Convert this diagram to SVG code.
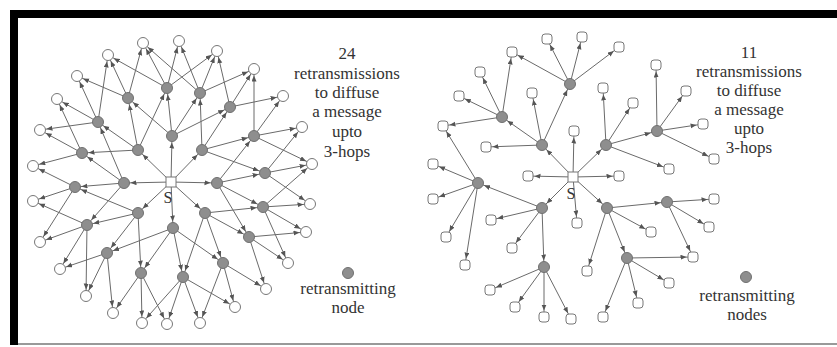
<svg xmlns="http://www.w3.org/2000/svg" width="837" height="347" viewBox="0 0 837 347">
<style>
.e{stroke:#6a6a6a;stroke-width:1;fill:none;marker-end:url(#ah)}
.g{fill:#8e8e8e;stroke:#707070;stroke-width:1}
.w{fill:#fff;stroke:#777;stroke-width:1}
.t{font-family:"Liberation Serif",serif;font-size:17px;fill:#333;text-anchor:middle}
</style>
<defs>
<marker id="ah" markerUnits="userSpaceOnUse" markerWidth="14" markerHeight="6" refX="12.5" refY="2.5" orient="auto"><path d="M0,0 L6,2.5 L0,5 z" fill="#555"/></marker>
</defs>
<rect width="837" height="347" fill="#fff"/>
<g id="frame">
<rect x="10" y="10" width="827" height="8" fill="#000"/>
<rect x="10" y="10" width="8" height="335" fill="#000"/>
<line x1="18" y1="344" x2="837" y2="344" stroke="#999" stroke-width="2"/>
</g>
<g id="connectors">
<!-- left graph: S to hop1 -->
<line class="e" x1="171" y1="182" x2="172" y2="136"/><line class="e" x1="171" y1="182" x2="202" y2="150"/><line class="e" x1="171" y1="182" x2="217" y2="183"/><line class="e" x1="171" y1="182" x2="205" y2="213"/><line class="e" x1="171" y1="182" x2="173" y2="228"/><line class="e" x1="171" y1="182" x2="138" y2="213"/><line class="e" x1="171" y1="182" x2="124" y2="183"/><line class="e" x1="171" y1="182" x2="138" y2="150"/>
<!-- hop1 to hop2 -->
<line class="e" x1="172" y1="136" x2="128" y2="98"/><line class="e" x1="172" y1="136" x2="167" y2="88"/><line class="e" x1="172" y1="136" x2="200" y2="93"/><line class="e" x1="172" y1="136" x2="230" y2="107"/>
<line class="e" x1="202" y1="150" x2="200" y2="93"/><line class="e" x1="202" y1="150" x2="230" y2="107"/><line class="e" x1="202" y1="150" x2="254" y2="136"/><line class="e" x1="202" y1="150" x2="265" y2="173"/>
<line class="e" x1="217" y1="183" x2="254" y2="136"/><line class="e" x1="217" y1="183" x2="265" y2="173"/><line class="e" x1="217" y1="183" x2="263" y2="207"/><line class="e" x1="217" y1="183" x2="249" y2="237"/>
<line class="e" x1="205" y1="213" x2="263" y2="207"/><line class="e" x1="205" y1="213" x2="249" y2="237"/><line class="e" x1="205" y1="213" x2="223" y2="263"/><line class="e" x1="205" y1="213" x2="183" y2="277"/>
<line class="e" x1="173" y1="228" x2="223" y2="263"/><line class="e" x1="173" y1="228" x2="183" y2="277"/><line class="e" x1="173" y1="228" x2="141" y2="273"/><line class="e" x1="173" y1="228" x2="107" y2="253"/>
<line class="e" x1="138" y1="213" x2="141" y2="273"/><line class="e" x1="138" y1="213" x2="107" y2="253"/><line class="e" x1="138" y1="213" x2="87" y2="225"/><line class="e" x1="138" y1="213" x2="75" y2="187"/>
<line class="e" x1="124" y1="183" x2="87" y2="225"/><line class="e" x1="124" y1="183" x2="75" y2="187"/><line class="e" x1="124" y1="183" x2="82" y2="153"/><line class="e" x1="124" y1="183" x2="98" y2="122"/>
<line class="e" x1="138" y1="150" x2="82" y2="153"/><line class="e" x1="138" y1="150" x2="98" y2="122"/><line class="e" x1="138" y1="150" x2="128" y2="98"/><line class="e" x1="138" y1="150" x2="167" y2="88"/>
<!-- hop2 to outer -->
<line class="e" x1="167" y1="88" x2="108" y2="55"/><line class="e" x1="167" y1="88" x2="143" y2="43"/><line class="e" x1="167" y1="88" x2="179" y2="41"/><line class="e" x1="167" y1="88" x2="217" y2="51"/>
<line class="e" x1="200" y1="93" x2="143" y2="43"/><line class="e" x1="200" y1="93" x2="179" y2="41"/><line class="e" x1="200" y1="93" x2="217" y2="51"/><line class="e" x1="200" y1="93" x2="254" y2="69"/>
<line class="e" x1="230" y1="107" x2="217" y2="51"/><line class="e" x1="230" y1="107" x2="254" y2="69"/><line class="e" x1="230" y1="107" x2="283" y2="96"/>
<line class="e" x1="254" y1="136" x2="254" y2="69"/><line class="e" x1="254" y1="136" x2="283" y2="96"/><line class="e" x1="254" y1="136" x2="302" y2="127"/><line class="e" x1="254" y1="136" x2="312" y2="164"/>
<line class="e" x1="265" y1="173" x2="302" y2="127"/><line class="e" x1="265" y1="173" x2="312" y2="164"/><line class="e" x1="265" y1="173" x2="310" y2="204"/>
<line class="e" x1="263" y1="207" x2="312" y2="164"/><line class="e" x1="263" y1="207" x2="310" y2="204"/><line class="e" x1="263" y1="207" x2="306" y2="232"/><line class="e" x1="263" y1="207" x2="288" y2="263"/>
<line class="e" x1="249" y1="237" x2="306" y2="232"/><line class="e" x1="249" y1="237" x2="288" y2="263"/><line class="e" x1="249" y1="237" x2="266" y2="289"/>
<line class="e" x1="223" y1="263" x2="266" y2="289"/><line class="e" x1="223" y1="263" x2="235" y2="307"/><line class="e" x1="223" y1="263" x2="200" y2="323"/>
<line class="e" x1="183" y1="277" x2="235" y2="307"/><line class="e" x1="183" y1="277" x2="200" y2="323"/><line class="e" x1="183" y1="277" x2="167" y2="324"/><line class="e" x1="183" y1="277" x2="142" y2="323"/>
<line class="e" x1="141" y1="273" x2="167" y2="324"/><line class="e" x1="141" y1="273" x2="142" y2="323"/><line class="e" x1="141" y1="273" x2="113" y2="313"/>
<line class="e" x1="107" y1="253" x2="113" y2="313"/><line class="e" x1="107" y1="253" x2="86" y2="296"/><line class="e" x1="107" y1="253" x2="60" y2="269"/>
<line class="e" x1="87" y1="225" x2="86" y2="296"/><line class="e" x1="87" y1="225" x2="60" y2="269"/><line class="e" x1="87" y1="225" x2="40" y2="242"/><line class="e" x1="87" y1="225" x2="33" y2="201"/>
<line class="e" x1="75" y1="187" x2="40" y2="242"/><line class="e" x1="75" y1="187" x2="33" y2="201"/><line class="e" x1="75" y1="187" x2="33" y2="166"/>
<line class="e" x1="82" y1="153" x2="33" y2="166"/><line class="e" x1="82" y1="153" x2="40" y2="130"/><line class="e" x1="82" y1="153" x2="57" y2="99"/>
<line class="e" x1="98" y1="122" x2="40" y2="130"/><line class="e" x1="98" y1="122" x2="57" y2="99"/><line class="e" x1="98" y1="122" x2="77" y2="76"/><line class="e" x1="98" y1="122" x2="108" y2="55"/>
<line class="e" x1="128" y1="98" x2="77" y2="76"/><line class="e" x1="128" y1="98" x2="108" y2="55"/><line class="e" x1="128" y1="98" x2="143" y2="43"/>
<!-- right graph -->
<line class="e" x1="573" y1="177" x2="542" y2="145"/><line class="e" x1="573" y1="177" x2="606" y2="145"/><line class="e" x1="573" y1="177" x2="542" y2="208"/><line class="e" x1="573" y1="177" x2="607" y2="208"/><line class="e" x1="573" y1="177" x2="574" y2="131"/><line class="e" x1="573" y1="177" x2="528" y2="176"/><line class="e" x1="573" y1="177" x2="619" y2="176"/><line class="e" x1="573" y1="177" x2="577" y2="223"/>
<line class="e" x1="542" y1="145" x2="570" y2="84"/><line class="e" x1="542" y1="145" x2="502" y2="117"/><line class="e" x1="542" y1="145" x2="532" y2="93"/><line class="e" x1="542" y1="145" x2="486" y2="147"/>
<line class="e" x1="570" y1="84" x2="547" y2="39"/><line class="e" x1="570" y1="84" x2="582" y2="37"/><line class="e" x1="570" y1="84" x2="619" y2="47"/><line class="e" x1="570" y1="84" x2="512" y2="52"/>
<line class="e" x1="502" y1="117" x2="512" y2="52"/><line class="e" x1="502" y1="117" x2="480" y2="72"/><line class="e" x1="502" y1="117" x2="459" y2="96"/><line class="e" x1="502" y1="117" x2="443" y2="126"/>
<line class="e" x1="606" y1="145" x2="603" y2="88"/><line class="e" x1="606" y1="145" x2="633" y2="103"/><line class="e" x1="606" y1="145" x2="657" y2="131"/><line class="e" x1="606" y1="145" x2="669" y2="169"/>
<line class="e" x1="657" y1="131" x2="656" y2="65"/><line class="e" x1="657" y1="131" x2="686" y2="91"/><line class="e" x1="657" y1="131" x2="703" y2="124"/><line class="e" x1="657" y1="131" x2="714" y2="159"/>
<line class="e" x1="542" y1="208" x2="478" y2="183"/><line class="e" x1="542" y1="208" x2="491" y2="220"/><line class="e" x1="542" y1="208" x2="512" y2="248"/><line class="e" x1="542" y1="208" x2="544" y2="267"/>
<line class="e" x1="478" y1="183" x2="443" y2="126"/><line class="e" x1="478" y1="183" x2="433" y2="164"/><line class="e" x1="478" y1="183" x2="433" y2="199"/><line class="e" x1="478" y1="183" x2="446" y2="237"/><line class="e" x1="478" y1="183" x2="465" y2="265"/>
<line class="e" x1="544" y1="267" x2="490" y2="290"/><line class="e" x1="544" y1="267" x2="515" y2="307"/><line class="e" x1="544" y1="267" x2="544" y2="317"/><line class="e" x1="544" y1="267" x2="571" y2="319"/>
<line class="e" x1="607" y1="208" x2="667" y2="202"/><line class="e" x1="607" y1="208" x2="651" y2="232"/><line class="e" x1="607" y1="208" x2="627" y2="258"/><line class="e" x1="607" y1="208" x2="587" y2="271"/>
<line class="e" x1="667" y1="202" x2="714" y2="199"/><line class="e" x1="667" y1="202" x2="709" y2="227"/><line class="e" x1="667" y1="202" x2="693" y2="257"/>
<line class="e" x1="627" y1="258" x2="693" y2="257"/><line class="e" x1="627" y1="258" x2="669" y2="283"/><line class="e" x1="627" y1="258" x2="638" y2="303"/><line class="e" x1="627" y1="258" x2="603" y2="317"/>
</g>
<!-- left graph nodes -->
<g id="L-S"><rect class="w" x="166" y="177" width="10" height="10"/><text x="168" y="203" font-family="Liberation Serif,serif" font-size="16" fill="#333" text-anchor="middle">S</text></g>
<g id="L-r1"><circle class="g" cx="167" cy="88" r="5.5"/></g>
<g id="L-r2"><circle class="g" cx="128" cy="98" r="5.5"/></g>
<g id="L-r3"><circle class="g" cx="200" cy="93" r="5.5"/></g>
<g id="L-r4"><circle class="g" cx="230" cy="107" r="5.5"/></g>
<g id="L-r5"><circle class="g" cx="98" cy="122" r="5.5"/></g>
<g id="L-r6"><circle class="g" cx="172" cy="136" r="5.5"/></g>
<g id="L-r7"><circle class="g" cx="138" cy="150" r="5.5"/></g>
<g id="L-r8"><circle class="g" cx="202" cy="150" r="5.5"/></g>
<g id="L-r9"><circle class="g" cx="254" cy="136" r="5.5"/></g>
<g id="L-r10"><circle class="g" cx="82" cy="153" r="5.5"/></g>
<g id="L-r11"><circle class="g" cx="265" cy="173" r="5.5"/></g>
<g id="L-r12"><circle class="g" cx="75" cy="187" r="5.5"/></g>
<g id="L-r13"><circle class="g" cx="124" cy="183" r="5.5"/></g>
<g id="L-r14"><circle class="g" cx="217" cy="183" r="5.5"/></g>
<g id="L-r15"><circle class="g" cx="263" cy="207" r="5.5"/></g>
<g id="L-r16"><circle class="g" cx="138" cy="213" r="5.5"/></g>
<g id="L-r17"><circle class="g" cx="205" cy="213" r="5.5"/></g>
<g id="L-r18"><circle class="g" cx="87" cy="225" r="5.5"/></g>
<g id="L-r19"><circle class="g" cx="173" cy="228" r="5.5"/></g>
<g id="L-r20"><circle class="g" cx="249" cy="237" r="5.5"/></g>
<g id="L-r21"><circle class="g" cx="107" cy="253" r="5.5"/></g>
<g id="L-r22"><circle class="g" cx="223" cy="263" r="5.5"/></g>
<g id="L-r23"><circle class="g" cx="141" cy="273" r="5.5"/></g>
<g id="L-r24"><circle class="g" cx="183" cy="277" r="5.5"/></g>
<g id="L-oa"><circle class="w" cx="143" cy="43" r="5.5"/></g>
<g id="L-ob"><circle class="w" cx="179" cy="41" r="5.5"/></g>
<g id="L-oc"><circle class="w" cx="217" cy="51" r="5.5"/></g>
<g id="L-od"><circle class="w" cx="254" cy="69" r="5.5"/></g>
<g id="L-oe"><circle class="w" cx="283" cy="96" r="5.5"/></g>
<g id="L-of"><circle class="w" cx="302" cy="127" r="5.5"/></g>
<g id="L-og"><circle class="w" cx="312" cy="164" r="5.5"/></g>
<g id="L-oh"><circle class="w" cx="310" cy="204" r="5.5"/></g>
<g id="L-oi"><circle class="w" cx="306" cy="232" r="5.5"/></g>
<g id="L-oj"><circle class="w" cx="288" cy="263" r="5.5"/></g>
<g id="L-ok"><circle class="w" cx="266" cy="289" r="5.5"/></g>
<g id="L-ol"><circle class="w" cx="235" cy="307" r="5.5"/></g>
<g id="L-om"><circle class="w" cx="200" cy="323" r="5.5"/></g>
<g id="L-on"><circle class="w" cx="167" cy="324" r="5.5"/></g>
<g id="L-oo"><circle class="w" cx="142" cy="323" r="5.5"/></g>
<g id="L-op"><circle class="w" cx="113" cy="313" r="5.5"/></g>
<g id="L-oq"><circle class="w" cx="86" cy="296" r="5.5"/></g>
<g id="L-or"><circle class="w" cx="60" cy="269" r="5.5"/></g>
<g id="L-os"><circle class="w" cx="40" cy="242" r="5.5"/></g>
<g id="L-ot"><circle class="w" cx="33" cy="201" r="5.5"/></g>
<g id="L-ou"><circle class="w" cx="33" cy="166" r="5.5"/></g>
<g id="L-ov"><circle class="w" cx="40" cy="130" r="5.5"/></g>
<g id="L-ow"><circle class="w" cx="57" cy="99" r="5.5"/></g>
<g id="L-ox"><circle class="w" cx="77" cy="76" r="5.5"/></g>
<g id="L-oy"><circle class="w" cx="108" cy="55" r="5.5"/></g>
<!-- right graph nodes -->
<g id="R-S"><rect class="w" x="568" y="172" width="10" height="10"/><text x="571" y="199" font-family="Liberation Serif,serif" font-size="16" fill="#333" text-anchor="middle">S</text></g>
<g id="R-g1"><circle class="g" cx="570" cy="84" r="5.5"/></g>
<g id="R-g2"><circle class="g" cx="502" cy="117" r="5.5"/></g>
<g id="R-g3"><circle class="g" cx="542" cy="145" r="5.5"/></g>
<g id="R-g4"><circle class="g" cx="606" cy="145" r="5.5"/></g>
<g id="R-g5"><circle class="g" cx="657" cy="131" r="5.5"/></g>
<g id="R-g6"><circle class="g" cx="478" cy="183" r="5.5"/></g>
<g id="R-g7"><circle class="g" cx="542" cy="208" r="5.5"/></g>
<g id="R-g8"><circle class="g" cx="607" cy="208" r="5.5"/></g>
<g id="R-g9"><circle class="g" cx="544" cy="267" r="5.5"/></g>
<g id="R-g10"><circle class="g" cx="627" cy="258" r="5.5"/></g>
<g id="R-g11"><circle class="g" cx="667" cy="202" r="5.5"/></g>
<g id="R-w1"><rect class="w" x="542" y="34" width="10" height="10" rx="3"/></g>
<g id="R-w2"><rect class="w" x="577" y="32" width="10" height="10" rx="3"/></g>
<g id="R-w3"><rect class="w" x="614" y="42" width="10" height="10" rx="3"/></g>
<g id="R-w4"><rect class="w" x="507" y="47" width="10" height="10" rx="3"/></g>
<g id="R-w5"><rect class="w" x="475" y="67" width="10" height="10" rx="3"/></g>
<g id="R-w6"><rect class="w" x="454" y="91" width="10" height="10" rx="3"/></g>
<g id="R-w7"><rect class="w" x="438" y="121" width="10" height="10" rx="3"/></g>
<g id="R-w8"><rect class="w" x="527" y="88" width="10" height="10" rx="3"/></g>
<g id="R-w9"><rect class="w" x="481" y="142" width="10" height="10" rx="3"/></g>
<g id="R-w10"><rect class="w" x="598" y="83" width="10" height="10" rx="3"/></g>
<g id="R-w11"><rect class="w" x="628" y="98" width="10" height="10" rx="3"/></g>
<g id="R-w12"><rect class="w" x="664" y="164" width="10" height="10" rx="3"/></g>
<g id="R-w13"><rect class="w" x="651" y="60" width="10" height="10" rx="3"/></g>
<g id="R-w14"><rect class="w" x="681" y="86" width="10" height="10" rx="3"/></g>
<g id="R-w15"><rect class="w" x="698" y="119" width="10" height="10" rx="3"/></g>
<g id="R-w16"><rect class="w" x="709" y="154" width="10" height="10" rx="3"/></g>
<g id="R-w17"><rect class="w" x="569" y="126" width="10" height="10" rx="3"/></g>
<g id="R-w18"><rect class="w" x="523" y="171" width="10" height="10" rx="3"/></g>
<g id="R-w19"><rect class="w" x="614" y="171" width="10" height="10" rx="3"/></g>
<g id="R-w20"><rect class="w" x="572" y="218" width="10" height="10" rx="3"/></g>
<g id="R-w21"><rect class="w" x="486" y="215" width="10" height="10" rx="3"/></g>
<g id="R-w22"><rect class="w" x="507" y="243" width="10" height="10" rx="3"/></g>
<g id="R-w23"><rect class="w" x="428" y="159" width="10" height="10" rx="3"/></g>
<g id="R-w24"><rect class="w" x="428" y="194" width="10" height="10" rx="3"/></g>
<g id="R-w25"><rect class="w" x="441" y="232" width="10" height="10" rx="3"/></g>
<g id="R-w26"><rect class="w" x="460" y="260" width="10" height="10" rx="3"/></g>
<g id="R-w27"><rect class="w" x="485" y="285" width="10" height="10" rx="3"/></g>
<g id="R-w28"><rect class="w" x="510" y="302" width="10" height="10" rx="3"/></g>
<g id="R-w29"><rect class="w" x="539" y="312" width="10" height="10" rx="3"/></g>
<g id="R-w30"><rect class="w" x="566" y="314" width="10" height="10" rx="3"/></g>
<g id="R-w31"><rect class="w" x="646" y="227" width="10" height="10" rx="3"/></g>
<g id="R-w32"><rect class="w" x="582" y="266" width="10" height="10" rx="3"/></g>
<g id="R-w33"><rect class="w" x="709" y="194" width="10" height="10" rx="3"/></g>
<g id="R-w34"><rect class="w" x="704" y="222" width="10" height="10" rx="3"/></g>
<g id="R-w35"><rect class="w" x="688" y="252" width="10" height="10" rx="3"/></g>
<g id="R-w36"><rect class="w" x="664" y="278" width="10" height="10" rx="3"/></g>
<g id="R-w37"><rect class="w" x="633" y="298" width="10" height="10" rx="3"/></g>
<g id="R-w38"><rect class="w" x="598" y="312" width="10" height="10" rx="3"/></g>
<!-- texts -->
<g id="L-caption" class="t"><text x="347" y="59">24</text><text x="347" y="79">retransmissions</text><text x="347" y="98">to diffuse</text><text x="347" y="117">a message</text><text x="347" y="137">upto</text><text x="347" y="157">3-hops</text></g>
<g id="R-caption" class="t"><text x="749" y="58">11</text><text x="749" y="77">retransmissions</text><text x="749" y="96">to diffuse</text><text x="749" y="115">a message</text><text x="749" y="134">upto</text><text x="749" y="153">3-hops</text></g>
<g id="L-legend"><circle class="g" cx="348" cy="273" r="5.5"/><text class="t" x="348" y="294">retransmitting</text><text class="t" x="348" y="313">node</text></g>
<g id="R-legend"><circle class="g" cx="746" cy="277" r="5.5"/><text class="t" x="747" y="301">retransmitting</text><text class="t" x="747" y="320">nodes</text></g>
</svg>
